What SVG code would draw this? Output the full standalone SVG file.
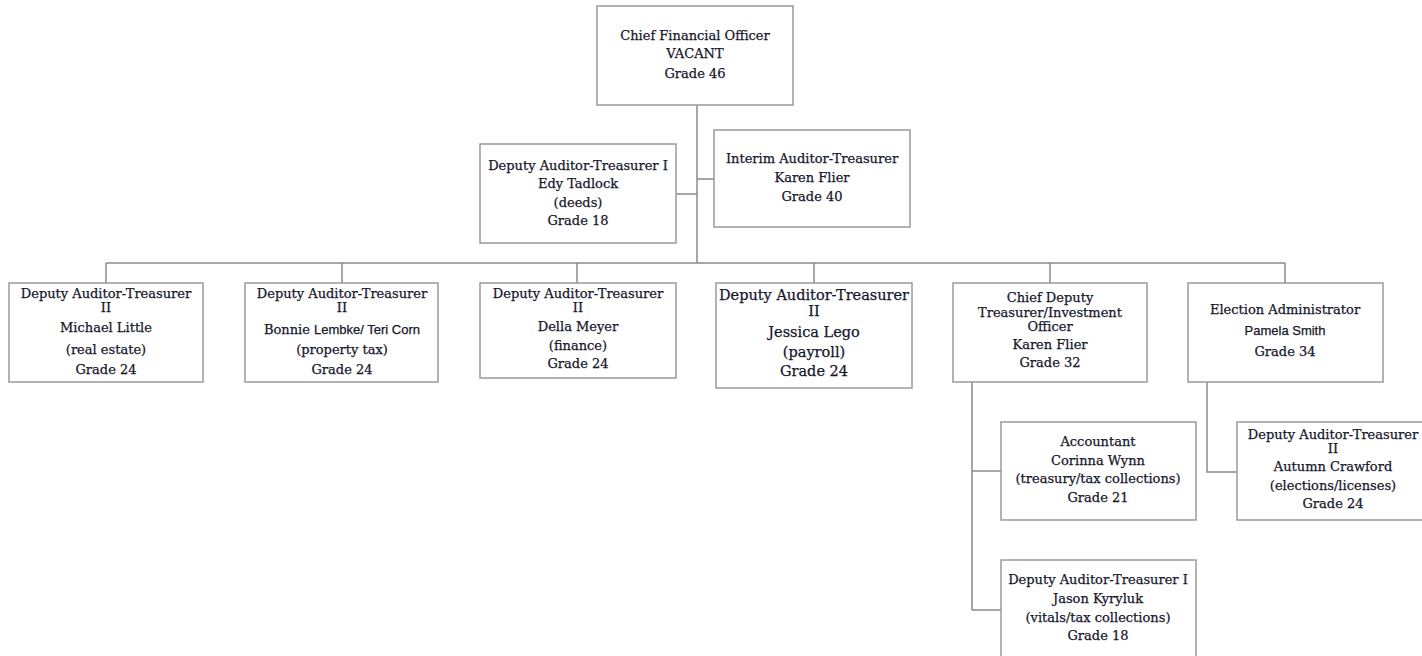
<svg xmlns="http://www.w3.org/2000/svg" width="1422" height="656" viewBox="0 0 1422 656">
<style>
.box{fill:#fff;stroke:#9a9a9a;stroke-width:1.5}
.con{fill:none;stroke:#8a8a8a;stroke-width:1.5}
text{font-family:"DejaVu Serif","Liberation Serif",serif;font-size:13px;fill:#16162a;stroke:#16162a;stroke-width:0.25;text-anchor:middle}
.big{font-size:14.5px}
.sans{font-family:"Liberation Sans","DejaVu Sans",sans-serif;font-size:13px}
</style>
<rect width="1422" height="656" fill="#fff"/>
<g id="connectors">
<path class="con" d="M697,105 V263 M676,194 H697 M697,179 H714 M106,263 H1285 M106,263 V283 M342,263 V283 M577,263 V283 M814,263 V283 M1050,263 V283 M1285,263 V283 M972,382 V610 M972,471 H1001 M972,610 H1001 M1207,382 V472 H1237"/>
</g>
<g id="cfo">
<rect class="box" x="597" y="6" width="196" height="99"/>
<text x="695" y="40">Chief Financial Officer</text>
<text x="695" y="58">VACANT</text>
<text x="695" y="78">Grade 46</text>
</g>
<g id="dat1-tadlock">
<rect class="box" x="480" y="144" width="196" height="99"/>
<text x="578" y="170">Deputy Auditor-Treasurer I</text>
<text x="578" y="188">Edy Tadlock</text>
<text x="578" y="207">(deeds)</text>
<text x="578" y="225">Grade 18</text>
</g>
<g id="interim">
<rect class="box" x="714" y="130" width="196" height="97"/>
<text x="812" y="163">Interim Auditor-Treasurer</text>
<text x="812" y="182">Karen Flier</text>
<text x="812" y="201">Grade 40</text>
</g>
<g id="little">
<rect class="box" x="9" y="283" width="194" height="99"/>
<text x="106" y="298">Deputy Auditor-Treasurer</text>
<text x="106" y="312">II</text>
<text x="106" y="332">Michael Little</text>
<text x="106" y="354">(real estate)</text>
<text x="106" y="374">Grade 24</text>
</g>
<g id="lembke">
<rect class="box" x="245" y="283" width="193" height="99"/>
<text x="342" y="298">Deputy Auditor-Treasurer</text>
<text x="342" y="312">II</text>
<text x="342" y="334">Bonnie <tspan class="sans">Lembke/ Teri Corn</tspan></text>
<text x="342" y="354">(property tax)</text>
<text x="342" y="374">Grade 24</text>
</g>
<g id="meyer">
<rect class="box" x="480" y="283" width="196" height="95"/>
<text x="578" y="298">Deputy Auditor-Treasurer</text>
<text x="578" y="312">II</text>
<text x="578" y="331">Della Meyer</text>
<text x="578" y="350">(finance)</text>
<text x="578" y="368">Grade 24</text>
</g>
<g id="lego">
<rect class="box" x="716" y="283" width="196" height="105"/>
<text class="big" x="814" y="300">Deputy Auditor-Treasurer</text>
<text class="big" x="814" y="316">II</text>
<text class="big" x="814" y="337">Jessica Lego</text>
<text class="big" x="814" y="357">(payroll)</text>
<text class="big" x="814" y="376">Grade 24</text>
</g>
<g id="chief-deputy">
<rect class="box" x="953" y="283" width="194" height="99"/>
<text x="1050" y="302">Chief Deputy</text>
<text x="1050" y="317">Treasurer/Investment</text>
<text x="1050" y="331">Officer</text>
<text x="1050" y="349">Karen Flier</text>
<text x="1050" y="367">Grade 32</text>
</g>
<g id="election">
<rect class="box" x="1188" y="283" width="195" height="99"/>
<text x="1285" y="314">Election Administrator</text>
<text class="sans" x="1285" y="335">Pamela Smith</text>
<text x="1285" y="356">Grade 34</text>
</g>
<g id="accountant">
<rect class="box" x="1001" y="422" width="195" height="98"/>
<text x="1098" y="446">Accountant</text>
<text x="1098" y="465">Corinna Wynn</text>
<text x="1098" y="483">(treasury/tax collections)</text>
<text x="1098" y="502">Grade 21</text>
</g>
<g id="kyryluk">
<rect class="box" x="1001" y="560" width="195" height="110"/>
<text x="1098" y="584">Deputy Auditor-Treasurer I</text>
<text x="1098" y="603">Jason Kyryluk</text>
<text x="1098" y="622">(vitals/tax collections)</text>
<text x="1098" y="640">Grade 18</text>
</g>
<g id="crawford">
<rect class="box" x="1237" y="422" width="200" height="98"/>
<text x="1333" y="439">Deputy Auditor-Treasurer</text>
<text x="1333" y="453">II</text>
<text x="1333" y="471">Autumn Crawford</text>
<text x="1333" y="490">(elections/licenses)</text>
<text x="1333" y="508">Grade 24</text>
</g>
</svg>
